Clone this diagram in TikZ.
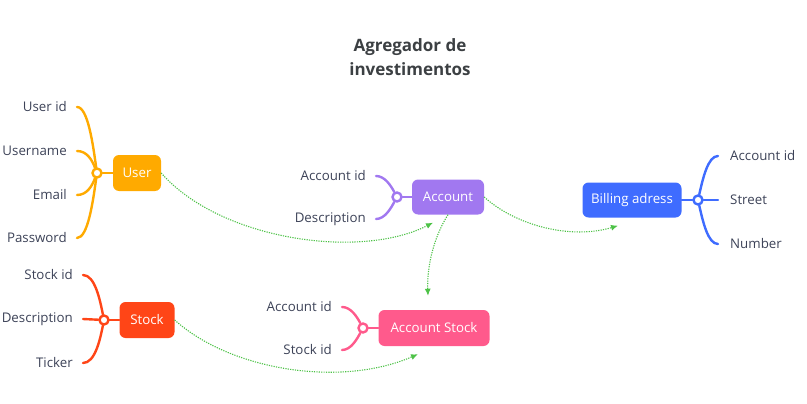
\documentclass[tikz,border=0pt]{standalone}
\usepackage{fontspec}
\setmainfont{Open Sans}
\usetikzlibrary{arrows.meta}
\definecolor{cuser}{HTML}{FFAA00}
\definecolor{cstock}{HTML}{FF4517}
\definecolor{cacc}{HTML}{A178F0}
\definecolor{cbill}{HTML}{3F6CFF}
\definecolor{cas}{HTML}{FF5A8C}
\definecolor{cgreen}{HTML}{4DC247}
\definecolor{ctxt}{HTML}{3C4257}
\definecolor{ctitle}{HTML}{3C4043}
\begin{document}
\begin{tikzpicture}[x=1pt,y=-1pt,
 ent/.style={rounded corners=6pt, fill=#1, text=white, minimum height=36pt, inner sep=0pt, font=\fontsize{13.3}{15}\selectfont},
 lbl/.style={text=ctxt, font=\fontsize{13.3}{15}\selectfont, inner sep=0pt},
 hub/.style={circle, draw=#1, fill=white, line width=2.4pt, minimum size=9pt, inner sep=0pt},
 br/.style={draw=#1, line width=2.4pt, line cap=round},
 rel/.style={draw=cgreen, dash pattern=on 1.2pt off 1.2pt, line width=1.1pt, -{Latex[length=7pt,width=6pt]}},
]
\useasboundingbox (0,0) rectangle (807,404);

\node[font=\bfseries\fontsize{17}{24}\selectfont, text=ctitle, align=center] (title) at (410,57) {Agregador de\\investimentos};

% entities
\node[ent=cuser, minimum width=48pt] (user) at (137,173) {User};
\node[ent=cstock, minimum width=55pt] (stock) at (147,320) {Stock};
\node[ent=cacc, minimum width=72pt, minimum height=35pt] (acc) at (448,197) {Account};
\node[ent=cbill, minimum width=99pt, minimum height=35pt] (bill) at (632,200) {Billing adress};
\node[ent=cas, minimum width=111pt] (as) at (434,328) {Account Stock};

% hubs
\node[hub=cuser] (huser) at (97,173) {};
\node[hub=cstock] (hstock) at (104,320) {};
\node[hub=cacc] (hacc) at (397,197) {};
\node[hub=cbill] (hbill) at (698,200) {};
\node[hub=cas] (has) at (363,328) {};

% labels
\node[lbl, anchor=east] (u1) at (67,107) {User id};
\node[lbl, anchor=east] (u2) at (67,151) {Username};
\node[lbl, anchor=east] (u3) at (67,195) {Email};
\node[lbl, anchor=east] (u4) at (67,238) {Password};
\node[lbl, anchor=east] (s1) at (73,275) {Stock id};
\node[lbl, anchor=east] (s2) at (73,319) {Description};
\node[lbl, anchor=east] (s3) at (73,363) {Ticker};
\node[lbl, anchor=east] (a1) at (366,176) {Account id};
\node[lbl, anchor=east] (a2) at (366,219) {Description};
\node[lbl, anchor=east] (k1) at (332,307) {Account id};
\node[lbl, anchor=east] (k2) at (332,350) {Stock id};
\node[lbl, anchor=west] (b1) at (730,156) {Account id};
\node[lbl, anchor=west] (b2) at (730,200) {Street};
\node[lbl, anchor=west] (b3) at (730,244) {Number};

% branches
\draw[br=cuser] ([xshift=10pt]u1.east) .. controls (88,107) and (93,145) .. (huser);
\draw[br=cuser] ([xshift=10pt]u2.east) .. controls (87,151) and (92,160) .. (huser);
\draw[br=cuser] ([xshift=10pt]u3.east) .. controls (87,195) and (92,186) .. (huser);
\draw[br=cuser] ([xshift=10pt]u4.east) .. controls (88,238) and (93,201) .. (huser);
\draw[br=cuser] (huser) -- (user);

\draw[br=cstock] ([xshift=10pt]s1.east) .. controls (95,275) and (100,300) .. (hstock);
\draw[br=cstock] ([xshift=10pt]s2.east) -- (hstock);
\draw[br=cstock] ([xshift=10pt]s3.east) .. controls (95,363) and (100,340) .. (hstock);
\draw[br=cstock] (hstock) -- (stock);

\draw[br=cacc] ([xshift=10pt]a1.east) .. controls (385,176) and (391,186) .. (hacc);
\draw[br=cacc] ([xshift=10pt]a2.east) .. controls (385,219) and (391,208) .. (hacc);
\draw[br=cacc] (hacc) -- (acc);

\draw[br=cas] ([xshift=10pt]k1.east) .. controls (351,307) and (357,317) .. (has);
\draw[br=cas] ([xshift=10pt]k2.east) .. controls (351,350) and (357,339) .. (has);
\draw[br=cas] (has) -- (as);

\draw[br=cbill] ([xshift=-12pt]b1.west) .. controls (708,156) and (703,178) .. (hbill);
\draw[br=cbill] ([xshift=-12pt]b2.west) -- (hbill);
\draw[br=cbill] ([xshift=-12pt]b3.west) .. controls (708,244) and (703,222) .. (hbill);
\draw[br=cbill] (hbill) -- (bill);

% relations
\draw[rel] (user.east) .. controls (220,240) and (360,260) .. ([xshift=-15pt,yshift=-8pt]acc.south);
\draw[rel] (acc.east) .. controls (515,225) and (570,240) .. ([xshift=-14pt,yshift=-8pt]bill.south);
\draw[rel] (acc.south) .. controls (432,240) and (427,270) .. ([xshift=-6pt,yshift=14pt]as.north);
\draw[rel] (stock.east) .. controls (230,370) and (340,388) .. ([xshift=-16pt,yshift=-8pt]as.south);
\end{tikzpicture}
\end{document}
